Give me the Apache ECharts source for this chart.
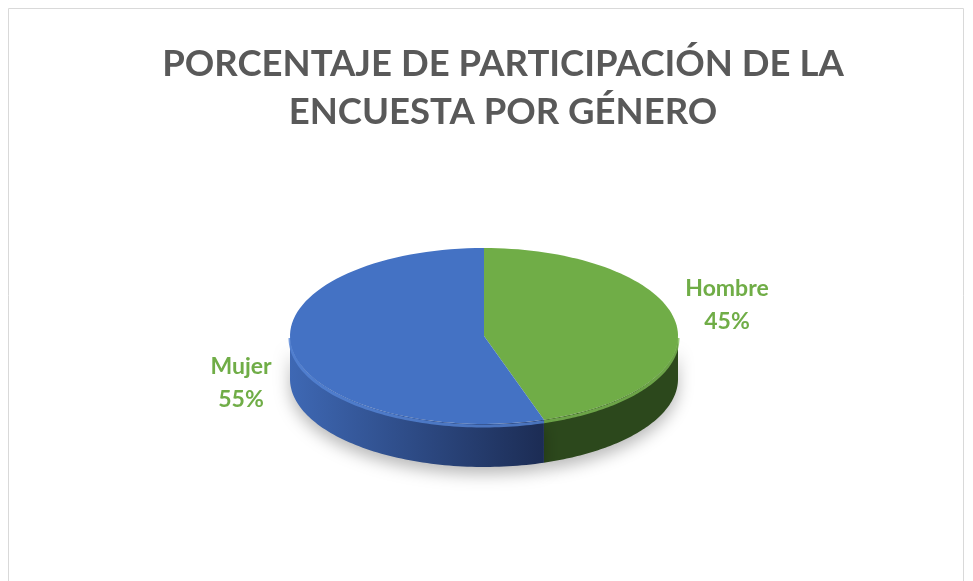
<!DOCTYPE html>
<html>
<head>
<meta charset="utf-8">
<script src="https://cdn.jsdelivr.net/npm/echarts@6/dist/echarts.min.js"></script>
<style>
  html, body { margin: 0; padding: 0; background: #fff; }
  #chart { width: 973px; height: 581px; }
</style>
</head>
<body>
<div id="chart"></div>
<script>
// datos de la encuesta
var categorias = ["Hombre", "Mujer"];
var valores = [45, 55];
var titulo = "PORCENTAJE DE PARTICIPACIÓN DE LA\nENCUESTA POR GÉNERO";

var colorTop = ["#70AD47", "#4472C4"];
var colorRim = ["#7DBA54", "#5584D6"];
var colorSide = [
  "#2C481C",
  new echarts.graphic.LinearGradient(0, 0, 1, 0, [
    { offset: 0, color: "#3E68B4" },
    { offset: 1, color: "#1C2C54" }
  ])
];

var total = valores.reduce(function (a, b) { return a + b; }, 0);
var cx = 484, cy = 336, rx = 194, ry = 88, depth = 43;

function pt(t, dy) {
  return [cx + rx * Math.sin(t), cy - ry * Math.cos(t) + (dy || 0)];
}

function renderItem(params, api) {
  var i = params.dataIndex;
  var antes = 0;
  for (var k = 0; k < i; k++) antes += valores[k];
  var a0 = antes / total * Math.PI * 2;
  var a1 = (antes + api.value(0)) / total * Math.PI * 2;
  var children = [];
  var n = 80;

  // pared lateral (solo la parte frontal)
  var s0 = Math.max(a0, Math.PI / 2), s1 = Math.min(a1, Math.PI * 1.5);
  if (s1 > s0) {
    var side = [], rim = [];
    for (var j = 0; j <= n; j++) side.push(pt(s0 + (s1 - s0) * j / n));
    for (var j = n; j >= 0; j--) side.push(pt(s0 + (s1 - s0) * j / n, depth));
    for (var j = 0; j <= n; j++) rim.push(pt(s0 + (s1 - s0) * j / n, 2));
    children.push({
      type: "polygon",
      shape: { points: side },
      style: {
        fill: colorSide[i],
        shadowColor: "rgba(0,0,0,0.28)",
        shadowBlur: 16,
        shadowOffsetY: 7
      }
    });
    children.push({
      type: "polyline",
      shape: { points: rim },
      style: { stroke: colorRim[i], lineWidth: 3, fill: null, opacity: 0.8 }
    });
  }

  // cara superior
  var top = [[cx, cy]];
  for (var j = 0; j <= n; j++) top.push(pt(a0 + (a1 - a0) * j / n));
  children.push({
    type: "polygon",
    shape: { points: top },
    style: { fill: colorTop[i] }
  });

  // etiqueta
  var m = (a0 + a1) / 2;
  children.push({
    type: "text",
    style: {
      text: categorias[i] + "\n" + Math.round(api.value(0) / total * 100) + "%",
      x: cx + 246 * Math.sin(m),
      y: cy + 8 - 247 * Math.cos(m),
      align: "center",
      verticalAlign: "middle",
      fill: "#70AD47",
      font: "bold 23px Lato",
      lineHeight: 33
    }
  });

  return { type: "group", children: children };
}

var myChart = echarts.init(document.getElementById("chart"));
var option = {
  animation: false,
  title: {
    text: titulo,
    left: 498,
    textAlign: "center",
    top: 35,
    textStyle: {
      color: "#595959",
      fontFamily: "Lato",
      fontWeight: "bold",
      fontSize: 36.5,
      lineHeight: 48
    }
  },
  graphic: [
    {
      type: "rect",
      shape: { x: 8.5, y: 8.5, width: 955, height: 620 },
      style: { fill: "none", stroke: "#D9D9D9", lineWidth: 1 },
      silent: true
    }
  ],
  series: [
    {
      type: "custom",
      coordinateSystem: "none",
      renderItem: renderItem,
      data: valores.map(function (v, i) { return { name: categorias[i], value: [v] }; })
    }
  ]
};
myChart.setOption(option);
</script>
</body>
</html>
